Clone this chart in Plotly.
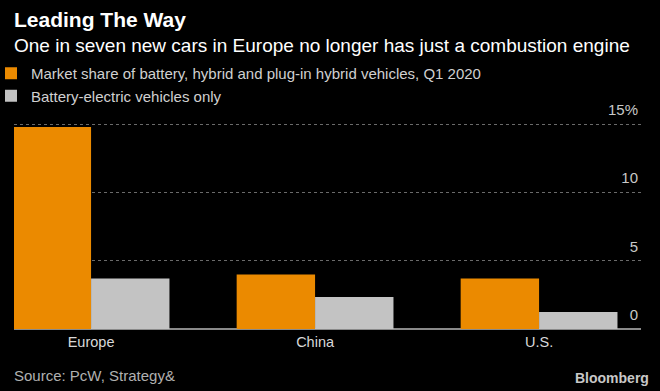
import plotly.graph_objects as go

categories = ["Europe", "China", "U.S."]
share_all = [14.8, 4.0, 3.7]
share_bev = [3.7, 2.35, 1.25]
series_names = ["Market share of battery, hybrid and plug-in hybrid vehicles, Q1 2020",
                "Battery-electric vehicles only"]
tick_vals = [0, 5, 10, 15]
tick_text = ["0", "5", "10", "15%"]

FONT = "Liberation Sans, Arial, sans-serif"
W, H = 660, 391
ml, mr, mt, mb = 14, 19, 100, 62
pw, ph = W - ml - mr, H - mt - mb
PX_PER_UNIT = 13.65
y_top = ph / PX_PER_UNIT


def pxx(px):
    return (px - ml) / pw


def py(px):
    return 1 - (px - mt) / ph


fig = go.Figure()
fig.add_bar(x=categories, y=share_all, name=series_names[0], marker_color="#eb8a00", marker_line_width=0)
fig.add_bar(x=categories, y=share_bev, name=series_names[1], marker_color="#c3c3c3", marker_line_width=0)

fig.update_layout(
    width=W, height=H, autosize=False,
    margin=dict(l=ml, r=mr, t=mt, b=mb, pad=0, autoexpand=False),
    paper_bgcolor="#000000", plot_bgcolor="#000000",
    barmode="group", bargap=0.30, bargroupgap=0,
    font=dict(family=FONT, color="#d0d0d0", size=14),
    showlegend=True,
    legend=dict(orientation="v", x=pxx(-9), y=py(57), xanchor="left", yanchor="top",
                font=dict(size=15, color="#d0d0d0", family=FONT), bgcolor="rgba(0,0,0,0)",
                itemwidth=30, tracegroupgap=0, traceorder="normal"),
    xaxis=dict(range=[-0.344, 2.455], showgrid=False, ticks="", showline=False, zeroline=False,
               automargin=False, ticklabelstandoff=2,
               tickfont=dict(size=14.5, color="#d8d8d8", family=FONT), fixedrange=True),
    yaxis=dict(range=[0, y_top], side="right", tickvals=tick_vals, ticktext=tick_text,
               ticklabelposition="inside top", automargin=False, ticklabelshift=-4,
               showgrid=True, gridcolor="#6a6a6a", griddash="dot",
               gridwidth=1, zeroline=True, zerolinecolor="#8a8a8a", zerolinewidth=2,
               showline=False, ticks="", fixedrange=True,
               tickfont=dict(size=15, color="#c8c8c8", family=FONT)),
    annotations=[
        dict(text="<b>Leading The Way</b>", x=pxx(12), y=py(6), xref="paper", yref="paper",
             showarrow=False, xanchor="left", yanchor="top",
             font=dict(size=21, color="#ffffff", family=FONT)),
        dict(text="One in seven new cars in Europe no longer has just a combustion engine",
             x=pxx(12), y=py(33), xref="paper", yref="paper", showarrow=False,
             xanchor="left", yanchor="top",
             font=dict(size=19, color="#ffffff", family=FONT)),
        dict(text="Source: PcW, Strategy&", x=pxx(12), y=py(386), xref="paper", yref="paper",
             showarrow=False, xanchor="left", yanchor="bottom",
             font=dict(size=15, color="#b0b0b0", family=FONT)),
        dict(text="<b>Bloomberg</b>", x=pxx(651), y=py(388), xref="paper", yref="paper",
             showarrow=False, xanchor="right", yanchor="bottom",
             font=dict(size=14, color="#c8c8c8", family=FONT)),
    ],
)

fig.write_html("out.html", config={"displayModeBar": False},
               post_script="document.body.style.margin='0';")
